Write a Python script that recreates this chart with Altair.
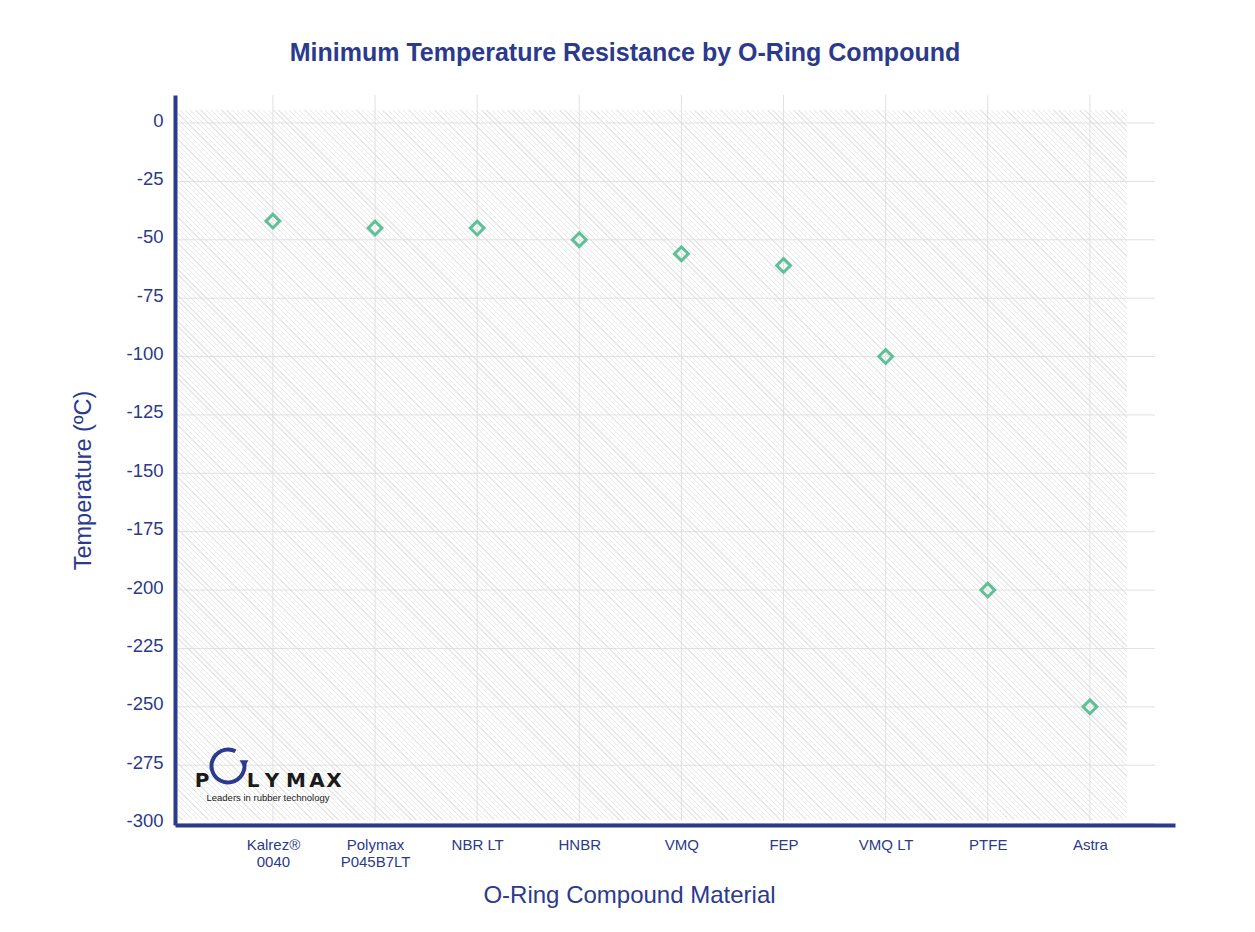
import altair as alt
import pandas as pd

compounds = ["Kalrez®|0040", "Polymax|P045B7LT", "NBR LT", "HNBR", "VMQ", "FEP", "VMQ LT", "PTFE", "Astra"]
min_temps = [-42, -45, -45, -50, -56, -61, -100, -200, -250]
y_ticks = list(range(0, -301, -25))

NAVY = "#2b3a8c"
GREEN = "#5cc196"
GRID = "#e0e0e0"
FONT = "Liberation Sans"

df = pd.DataFrame({"compound": compounds, "temp": min_temps})
ticks_df = pd.DataFrame({"t": y_ticks})
one = pd.DataFrame({"a": [0]})

W, H = 1000, 730
xscale = alt.Scale(type="point", domain=compounds, range=[0, W], padding=0.896, align=0.535)
yscale = alt.Scale(domain=[-300.6, 12], range=[H, 0], nice=False, zero=False)

xaxis = alt.Axis(title="O-Ring Compound Material", labelExpr="split(datum.label, '|')",
                 labelAngle=0, labelPadding=12, labelLineHeight=17,
                 labelFontSize=15, titleFontSize=24, titleX=454, titleY=70,
                 titleBaseline="middle", zindex=1)
yaxis = alt.Axis(title="Temperature (ºC)", values=y_ticks, labelPadding=12,
                 labelExpr="replace(datum.label, '\u2212', '-')", labelFontSize=18.5,
                 labelOffset=-3, titleFontSize=23.5, titleX=-92, titleY=385,
                 titleBaseline="middle", zindex=1)

X = alt.X("compound:N", scale=xscale, sort=compounds, axis=xaxis)
Y_t = alt.Y("t:Q", scale=yscale, axis=yaxis)
Y = alt.Y("temp:Q", scale=yscale, axis=yaxis)

# diagonal hatch texture built as a striped linear gradient
RW, RH = 949, 710
ky = RH / RW
a = (1 + ky) / (1 + ky * ky)
period = 5.2 / ((1 + ky * ky) * a * RW)
stops = []
t = 0.0
while t < 1.0:
    w = period * 0.25
    stops += [
        {"offset": round(t, 6), "color": "#ffffff"},
        {"offset": round(min(t + period - w, 1), 6), "color": "#ffffff"},
        {"offset": round(min(t + period - w, 1), 6), "color": "#e8e8e8"},
        {"offset": round(min(t + period, 1), 6), "color": "#e8e8e8"},
    ]
    t += period
hatch = alt.Gradient(gradient="linear", x1=0, y1=1, x2=a, y2=1 - ky * a, stops=stops)

bg = alt.Chart(one).mark_rect(fill=hatch).encode(
    x=alt.value(3), x2=alt.value(952), y=alt.value(15), y2=alt.value(725)
)

hgrid = alt.Chart(ticks_df).mark_rule(color=GRID, strokeWidth=1).encode(
    y=Y_t, x=alt.value(3), x2=alt.value(980),
)

vgrid = alt.Chart(df).mark_rule(color=GRID, strokeWidth=1).encode(
    x=X, y=alt.value(0), y2=alt.value(H - 4),
)

points = alt.Chart(df).mark_point(
    shape="diamond", filled=False, stroke=GREEN, strokeWidth=3, size=190, opacity=1
).encode(x=X, y=Y)

title = alt.Chart(one).mark_text(
    text="Minimum Temperature Resistance by O-Ring Compound", font=FONT, fontSize=25,
    fontWeight="bold", color=NAVY, align="center", baseline="middle"
).encode(x=alt.value(450), y=alt.value(-42))

logo_ring = alt.Chart(one).mark_arc(
    radius=18.5, radius2=14.5, theta=1.4, theta2=6.75, color=NAVY
).encode(x=alt.value(53), y=alt.value(671))

logo_arrow = alt.Chart(one).mark_point(
    shape="triangle-down", filled=True, color=NAVY, size=80, opacity=1
).encode(x=alt.value(69), y=alt.value(669))

logo_layers = []
for ch, px in zip(["P", "L", "Y", "M", "A", "X"], [27, 78, 97, 121, 142, 159]):
    logo_layers.append(
        alt.Chart(one).mark_text(
            text=ch, font="DejaVu Sans", fontSize=20, fontWeight="bold", color="#1a1a1a",
            align="center", baseline="alphabetic"
        ).encode(x=alt.value(px), y=alt.value(692))
    )

logo_tag = alt.Chart(one).mark_text(
    text="Leaders in rubber technology", font=FONT, fontSize=9.5, color="#1a1a1a",
    align="center", baseline="middle"
).encode(x=alt.value(93), y=alt.value(703))

chart = alt.layer(bg, hgrid, vgrid, points, logo_ring, logo_arrow, *logo_layers, logo_tag, title).properties(
    width=W, height=H,
    autosize=alt.AutoSizeParams(type="none"),
    padding={"left": 167, "top": 87, "right": 60, "bottom": 90},
).configure_view(stroke=None).configure_axis(
    domainColor=NAVY, domainWidth=4, ticks=False, grid=False,
    labelColor=NAVY, labelFont=FONT,
    titleColor=NAVY, titleFont=FONT, titleFontWeight="normal",
)

chart.save("out.html", embed_options={"renderer": "svg", "actions": False})
